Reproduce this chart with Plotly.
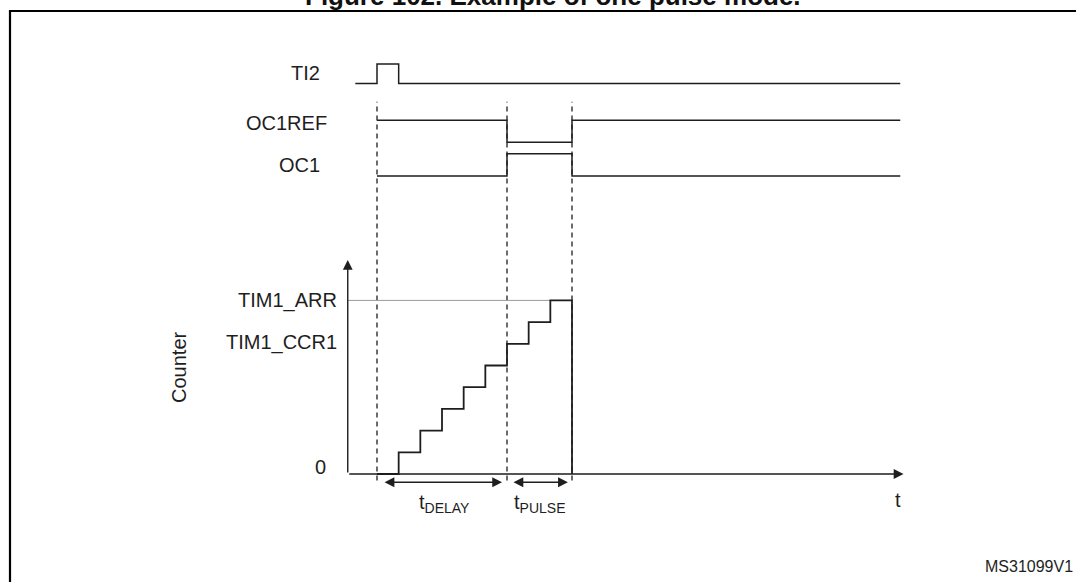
import plotly.graph_objects as go

# Contador del timer (un valor por periodo de reloj)
t_clk = [0, 1, 2, 3, 4, 5, 6, 7, 8, 9]
counter = [0, 1, 2, 3, 4, 5, 6, 7, 8, 0]
tim1_ccr1 = 6
tim1_arr = 8

# Señales logicas: instantes de flanco y nivel (0/1) a partir de cada uno
t_fin = 24.15
ti2_t = [-1, 0, 1, t_fin]
ti2_lvl = [0, 1, 0, 0]
oc1ref_t = [0, 6, 9, t_fin]
oc1ref_lvl = [1, 0, 1, 1]
oc1_t = [0, 6, 9, t_fin]
oc1_lvl = [0, 1, 0, 0]

# Instantes marcados con lineas discontinuas: disparo, CCR1, ARR
marcas = [0, 6, 9]

# Etiquetas
señales = ["TI2", "OC1REF", "OC1"]
niveles_contador = ["0", "TIM1_CCR1", "TIM1_ARR"]

FONT = "Arial, Liberation Sans, sans-serif"
INK = "#1e1e1e"

# Escala: 1 periodo = 21.667 px, 1 cuenta = 21.7 px
W, H = 1076, 582
PX_T, T0 = 21.667, 377
PX_C, C0 = 21.7, 474
x_rng = [-T0 / PX_T, (W - T0) / PX_T]
y_rng = [-(H - C0) / PX_C, C0 / PX_C]

fig = go.Figure()

# Lineas discontinuas verticales
for m in marcas:
    fig.add_trace(go.Scatter(x=[m, m], y=[-0.3, 17.15], mode="lines",
                             line=dict(color=INK, width=1.3, dash="5px,4px")))

# Señales digitales (base, amplitud de cada carril)
carriles = [(ti2_t, ti2_lvl, 18.0, 0.89),
            (oc1ref_t, oc1ref_lvl, 15.29, 1.01),
            (oc1_t, oc1_lvl, 13.73, 1.03)]
for tt, lvl, base, amp in carriles:
    fig.add_trace(go.Scatter(x=tt, y=[base + amp * v for v in lvl], mode="lines",
                             line=dict(color=INK, width=1.5, shape="hv")))

# Linea de TIM1_ARR
fig.add_trace(go.Scatter(x=[-1.35, t_clk[-1]], y=[tim1_arr, tim1_arr], mode="lines",
                         line=dict(color="#9a9a9a", width=1)))

# Ejes con flecha
ejes = [(-1.35, 9.86, -1.35, 0), (24.3, 0, -1.35, 0)]
for x, y, ax, ay in ejes:
    fig.add_annotation(x=x, y=y, ax=ax, ay=ay, xref="x", yref="y", axref="x", ayref="y",
                       text="", showarrow=True, arrowhead=2, arrowsize=1.4,
                       arrowwidth=1.4, arrowcolor=INK, standoff=0, startstandoff=0)

# Contador en escalera
fig.add_trace(go.Scatter(x=t_clk, y=counter, mode="lines",
                         line=dict(color=INK, width=1.8, shape="hv")))

# Flechas dobles t_DELAY y t_PULSE
for x0, x1 in [(0.28, 5.77), (6.23, 8.81)]:
    fig.add_annotation(x=x1, y=-0.38, ax=x0, ay=-0.38, xref="x", yref="y",
                       axref="x", ayref="y", text="", showarrow=True,
                       arrowhead=2, arrowside="end+start", arrowsize=1.4,
                       arrowwidth=1.4, arrowcolor=INK, standoff=0, startstandoff=0)

# Etiquetas de las señales
for txt, x, y in zip(señales, [-2.54, -2.22, -2.54], [18.48, 16.17, 14.24]):
    fig.add_annotation(x=x, y=y, text=txt, showarrow=False, xanchor="right",
                       font=dict(family=FONT, size=20, color=INK))

# Etiquetas del contador
for txt, x, y in zip(niveles_contador, [-2.24, -1.75, -1.75], [0.32, tim1_ccr1 + 0.06, tim1_arr]):
    fig.add_annotation(x=x, y=y, text=txt, showarrow=False, xanchor="right",
                       font=dict(family=FONT, size=20, color=INK))

fig.add_annotation(x=-9.14, y=4.93, text="Counter", textangle=-90, showarrow=False,
                   font=dict(family=FONT, size=20, color=INK))
fig.add_annotation(x=24.05, y=-1.2, text="t", showarrow=False,
                   font=dict(family=FONT, size=20, color=INK))
fig.add_annotation(x=3.1, y=-1.35, text="t<sub>DELAY</sub>", showarrow=False,
                   font=dict(family=FONT, size=20, color=INK))
fig.add_annotation(x=7.52, y=-1.35, text="t<sub>PULSE</sub>", showarrow=False,
                   font=dict(family=FONT, size=20, color=INK))
fig.add_annotation(x=32.2, y=-4.24, text="MS31099V1", showarrow=False, xanchor="right",
                   font=dict(family=FONT, size=16, color=INK))

# Titulo (cortado en la parte superior, como en el original)
fig.add_annotation(x=553 / W, y=1 + 4 / H, xref="paper", yref="paper", yanchor="middle",
                   text="Figure 102. Example of one pulse mode.", showarrow=False,
                   font=dict(family=FONT, size=26, color="#111111", weight="bold"))

# Marco
fig.add_shape(type="rect", xref="paper", yref="paper", x0=10 / W, x1=1.05,
              y0=-0.05, y1=1 - 11 / H, line=dict(color="black", width=2.2))

fig.update_layout(width=W, height=H, margin=dict(l=0, r=0, t=0, b=0),
                  paper_bgcolor="white", plot_bgcolor="white", showlegend=False,
                  xaxis=dict(range=x_rng, visible=False, fixedrange=True),
                  yaxis=dict(range=y_rng, visible=False, fixedrange=True))

fig.write_html("out.html", config={"displayModeBar": False},
               post_script="document.body.style.margin='0';")
